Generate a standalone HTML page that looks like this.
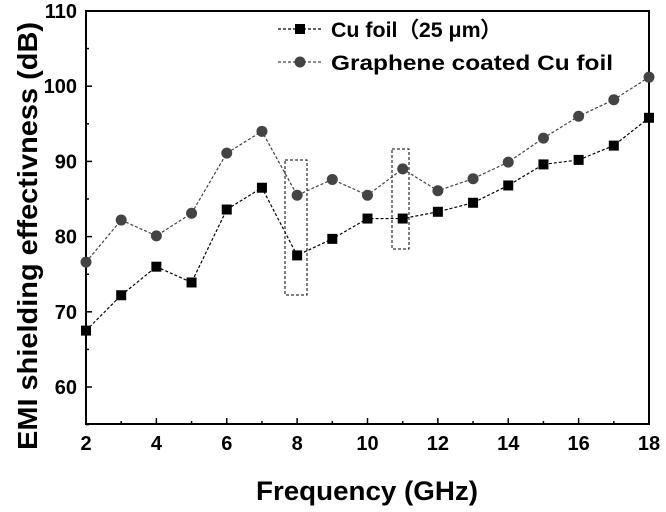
<!DOCTYPE html>
<html><head><meta charset="utf-8"><style>
body{margin:0;background:#fff;}
svg{display:block;font-family:"Liberation Sans",Arial,sans-serif;font-weight:bold;}
</style></head><body>
<svg id="chart" width="666" height="512"></svg>
<script>
const freqs=[2,3,4,5,6,7,8,9,10,11,12,13,14,15,16,17,18];
const cuFoil=[67.5,72.2,76.0,73.9,83.6,86.5,77.5,79.7,82.4,82.4,83.3,84.5,86.8,89.6,90.2,92.1,95.8];
const graphene=[76.6,82.2,80.1,83.1,91.1,94.0,85.5,87.6,85.5,89.0,86.1,87.7,89.9,93.1,96.0,98.2,101.2];
const xTicks=[2,4,6,8,10,12,14,16,18];
const yTicks=[60,70,80,90,100,110];
const L=86,R=649,T=11,B=424;
const xMin=2,xMax=18,yTop=110,yPer=7.52;
const xs=v=>L+(v-xMin)*(R-L)/(xMax-xMin);
const ys=v=>T+(yTop-v)*yPer;
const svg=document.getElementById('chart');
const NS='http://www.w3.org/2000/svg';
function mk(tag,attrs,parent){const e=document.createElementNS(NS,tag);for(const k in attrs)e.setAttribute(k,attrs[k]);(parent||svg).appendChild(e);return e;}
let e;
e=mk('rect',{x:L,y:T,width:R-L,height:B-T,fill:'none',stroke:'#000','stroke-width':2});


for(let v=2;v<=18;v++){const major=v%2===0;
e=mk('line',{x1:xs(v),x2:xs(v),y1:B,y2:B-(major?6:3),stroke:'#000','stroke-width':1.5});

}
for(let v=55;v<=110;v+=5){const major=v%10===0;
e=mk('line',{x1:L,x2:L+(major?6:3),y1:ys(v),y2:ys(v),stroke:'#000','stroke-width':1.5});

}
xTicks.forEach(v=>{e=mk('text',{x:xs(v),y:450,'text-anchor':'middle','font-size':20});e.textContent=v;

});
yTicks.forEach(v=>{e=mk('text',{x:77,y:ys(v)+7,'text-anchor':'end','font-size':20});e.textContent=v;

});
e=mk('text',{x:367,y:500,'text-anchor':'middle','font-size':27,textLength:222,lengthAdjust:'spacingAndGlyphs'});e.textContent='Frequency (GHz)';


e=mk('text',{x:0,y:0,'text-anchor':'middle','font-size':28,textLength:428,lengthAdjust:'spacingAndGlyphs',transform:'translate(37,236) rotate(-90)'});e.textContent='EMI shielding effectivness (dB)';


e=mk('rect',{x:285,y:160,width:22,height:135,fill:'none',stroke:'#000','stroke-width':1,'stroke-dasharray':'3,2'});


e=mk('rect',{x:392,y:149,width:17,height:100,fill:'none',stroke:'#000','stroke-width':1,'stroke-dasharray':'3,2'});


function series(vals,color,shape,name){
 const pts=freqs.map((f,i)=>xs(f)+','+ys(vals[i])).join(' ');
 e=mk('polyline',{points:pts,fill:'none',stroke:color,'stroke-width':1.2,'stroke-dasharray':'3,2'});
 
 
 freqs.forEach((f,i)=>{
  if(shape==='sq'){e=mk('rect',{x:xs(f)-5,y:ys(vals[i])-5,width:10,height:10,fill:color});}
  else{e=mk('circle',{cx:xs(f),cy:ys(vals[i]),r:5.5,fill:color});}
  
  
 });
}
series(graphene,'#444','c','graphene');
series(cuFoil,'#000','sq','cu-foil');
e=mk('line',{x1:278,x2:322,y1:29,y2:29,stroke:'#000','stroke-width':1.2,'stroke-dasharray':'3,2'});


e=mk('rect',{x:295,y:24,width:10,height:10,fill:'#000'});


e=mk('text',{x:331,y:37,'font-size':21,textLength:171,lengthAdjust:'spacingAndGlyphs'});e.textContent='Cu foil（25 μm）';


e=mk('line',{x1:278,x2:322,y1:62,y2:62,stroke:'#444','stroke-width':1.2,'stroke-dasharray':'3,2'});


e=mk('circle',{cx:300,cy:62,r:5.5,fill:'#444'});


e=mk('text',{x:331,y:70,'font-size':21,textLength:282,lengthAdjust:'spacingAndGlyphs'});e.textContent='Graphene coated Cu foil';


</script>
</body></html>
